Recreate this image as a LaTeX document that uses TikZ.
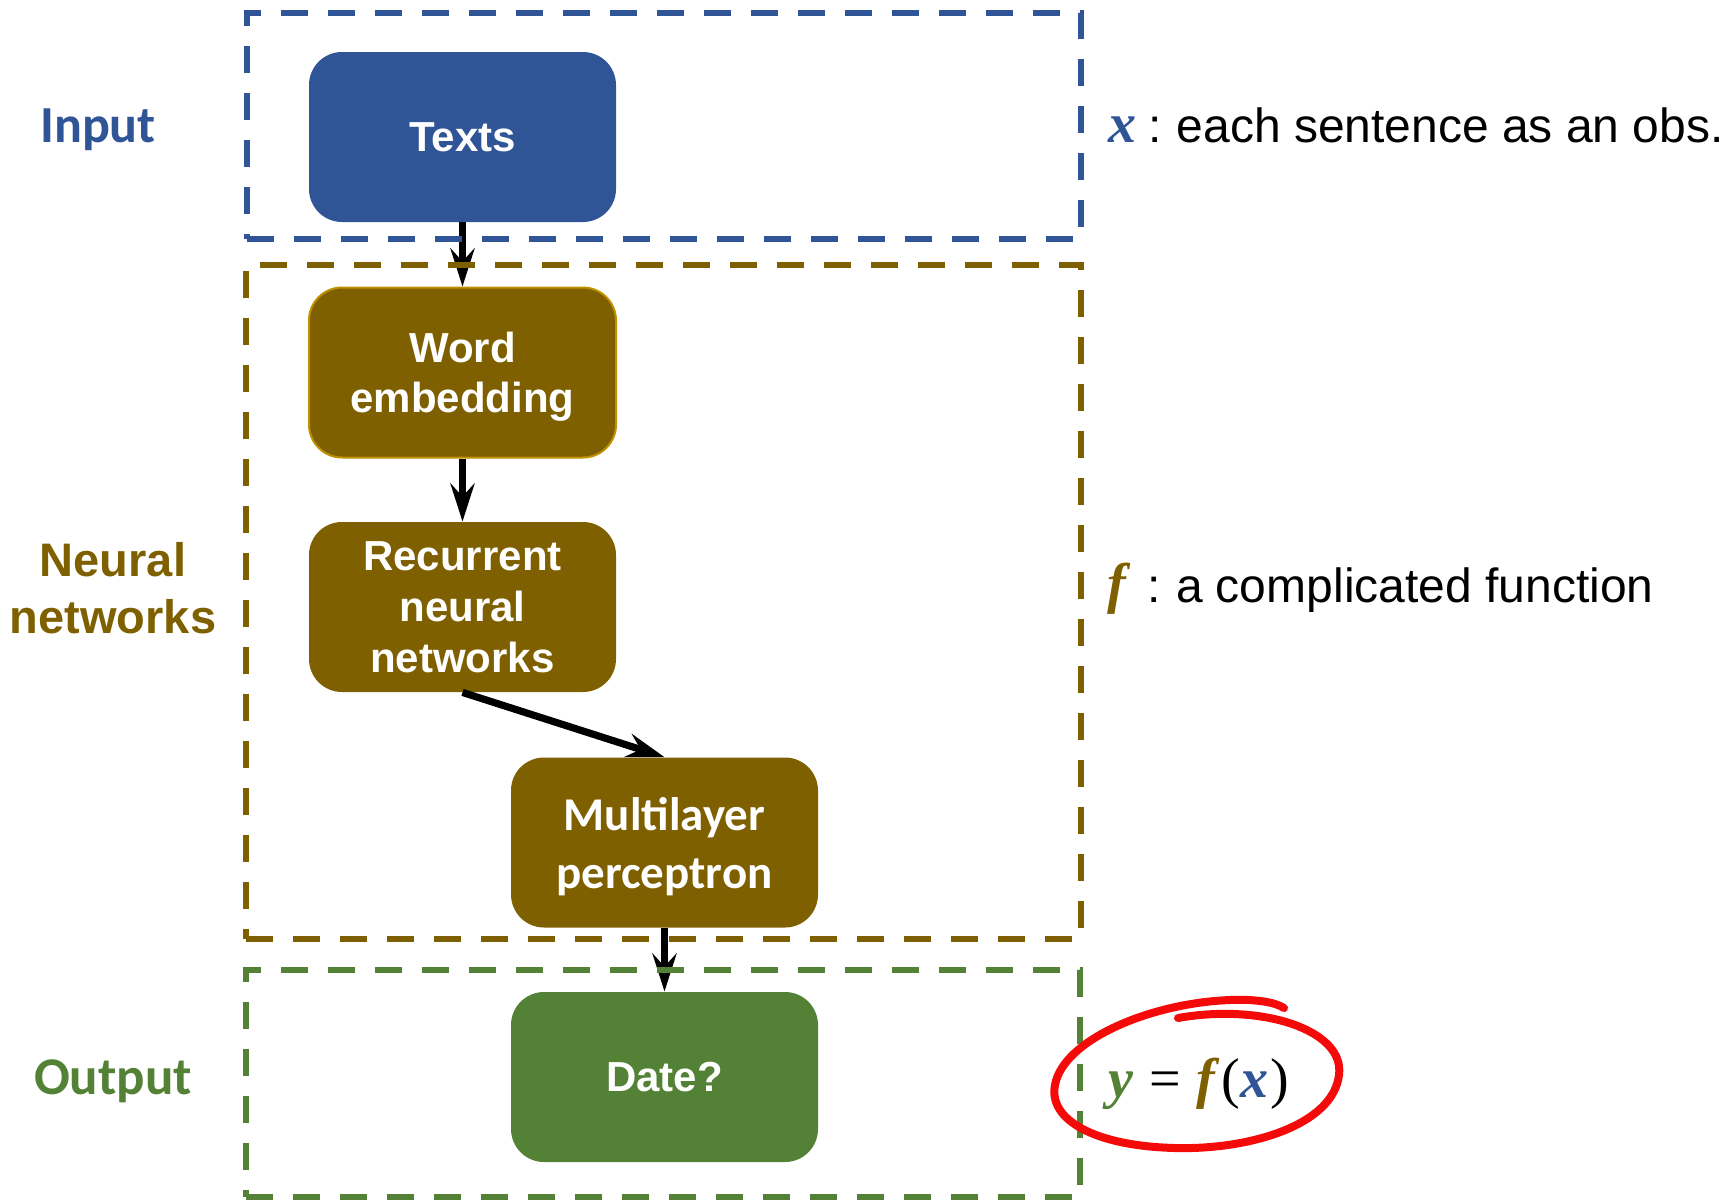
\documentclass[tikz,border=0pt]{standalone}
\usepackage{fontspec}
\setmainfont{Liberation Sans}
\newfontfamily\calfont{Carlito}
\newfontfamily\serifmath{Liberation Serif}
\usetikzlibrary{arrows.meta}
\definecolor{cblue}{HTML}{2F5597}
\definecolor{cbrown}{HTML}{7F6000}
\definecolor{cgreen}{HTML}{538135}
\definecolor{cgold}{HTML}{BF9000}
\definecolor{cred}{HTML}{F50A0A}
\newcommand\mvar[1]{{\serifmath\bfseries\itshape\fontsize{28}{30}\selectfont #1}}
\newcommand\mrm[1]{{\serifmath\fontsize{28}{30}\selectfont #1}}
\begin{document}
\begin{tikzpicture}[x=0.5pt,y=-0.5pt,
  frame/.style={rectangle, inner sep=0pt, line width=3.25pt, dash pattern=on 13.5pt off 10pt},
  box/.style={rectangle, rounded corners=16.5pt, minimum width=153.5pt, minimum height=85pt,
    inner sep=0pt, text=white, align=center, text depth=0pt,
    font=\bfseries\fontsize{21}{25}\selectfont},
  conn/.style={line width=3.6pt, -{Stealth[length=19pt,width=12pt,inset=6.5pt]}},
  lbl/.style={inner sep=0pt, align=center, text depth=0pt, font=\bfseries\fontsize{23.5}{28.5}\selectfont},
  note/.style={anchor=base west, inner sep=0pt, font=\fontsize{24}{28}\selectfont}
]
\useasboundingbox (0,0) rectangle (1735,1200);

% process boxes
\node[box, fill=cblue] (texts) at (462.5,137) {Texts};
\node[box, fill=cbrown, draw=cgold, line width=1pt] (word) at (462.5,372.5) {Word\\embedding};
\node[box, fill=cbrown, font=\bfseries\fontsize{21}{25.5}\selectfont] (rnn) at (462.5,607) {Recurrent\\neural\\networks};
\node[box, fill=cbrown, font=\calfont\bfseries\fontsize{23.5}{29}\selectfont] (mlp) at (664.5,842.5) {Multilayer\\perceptron};
\node[box, fill=cgreen] (date) at (664.5,1077) {Date?};

% connectors
\draw[conn] (texts.south) -- (word.north);
\draw[conn] (word.south) -- (rnn.north);
\draw[conn] (rnn.south) -- (mlp.north);
\draw[conn] (mlp.south) -- (date.north);

% dashed group frames
\node[frame, draw=cblue, minimum width=417pt, minimum height=113pt] (inframe) at (664,126) {};
\node[frame, draw=cbrown, minimum width=417.5pt, minimum height=337pt] (nnframe) at (663.5,602) {};
\node[frame, draw=cgreen, minimum width=417pt, minimum height=113.5pt] (outframe) at (663,1083.5) {};

% left labels
\node[lbl, text=cblue, font=\calfont\bfseries\fontsize{26}{30}\selectfont, anchor=base] (lin) at (98,142) {Input};
\node[lbl, text=cbrown] (lnn) at (113,587.5) {Neural\\networks};
\node[lbl, text=cgreen, font=\calfont\bfseries\fontsize{26.5}{30}\selectfont, anchor=base] (lout) at (113,1094) {Output};

% right notes
\node[note] (nx) at (1108,142) {\textcolor{cblue}{\mvar{x}}\hspace{6pt}:\hspace{7.5pt}each sentence as an obs.};
\node[note] (nf) at (1107,602) {\textcolor{cbrown}{\mvar{f}}\hspace{10.5pt}:\hspace{7.8pt}a complicated function};
\node[note] (ny) at (1108,1097) {\textcolor{cgreen}{\mvar{y}}\hspace{8pt}\mrm{=}\hspace{8pt}\textcolor{cbrown}{\mvar{f}}\hspace{3pt}\mrm{(}\textcolor{cblue}{\mvar{x}}\hspace{1pt}\mrm{)}};

% hand-drawn red circle
\draw[cred, line width=4pt, line cap=round, line join=round]
  (1178,1018) .. controls (1262,1003) and (1345,1030) .. (1339,1075)
  .. controls (1333,1125) and (1250,1150) .. (1175,1148)
  .. controls (1095,1146) and (1048,1120) .. (1055,1085)
  .. controls (1063,1040) and (1150,1003) .. (1230,1000)
  .. controls (1255,999) and (1275,1002) .. (1284,1008);
\end{tikzpicture}
\end{document}
